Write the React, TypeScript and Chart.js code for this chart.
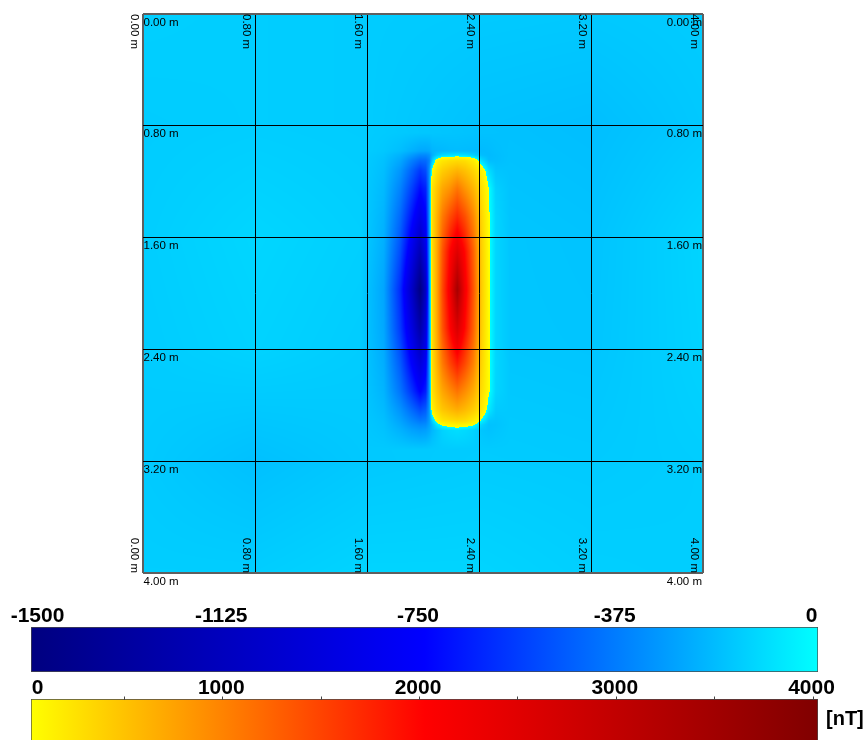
import { useEffect, useRef } from "react";
import { Chart, registerables } from "chart.js";

Chart.register(...registerables);

// ---- survey grid (metres) ----
const gridTicks = [0, 0.8, 1.6, 2.4, 3.2, 4.0];

// ---- background field (nT), nodes every 0.8 m ----
const bgNodesX = [0, 0.8, 1.6, 2.4, 3.2, 4.0];
const bgNodesY = [0, 0.8, 1.6, 2.4, 3.2, 4.0];
const bgRows = [
  [-140, -145, -150, -155, -160, -150],
  [-150, -145, -150, -180, -190, -160],
  [-145, -120, -140, -165, -175, -125],
  [-150, -130, -150, -165, -170, -130],
  [-155, -185, -160, -150, -155, -145],
  [-145, -145, -125, -125, -140, -145],
];

// ---- dipole anomaly (nT above background) ----
const anomNodesX = [1.55, 1.72, 1.84, 1.92, 1.98, 2.02, 2.045, 2.065, 2.1, 2.14, 2.19, 2.245, 2.3, 2.36, 2.42, 2.47, 2.52, 2.62];
const anomNodesY = [0.85, 0.98, 1.01, 1.05, 1.12, 1.25, 1.45, 1.7, 1.97, 2.25, 2.5, 2.7, 2.83, 2.91, 2.94, 2.98, 3.12];
const anomRows = [
  [0, 0, 0, 0, 0, 0, 0, 0, 0, 0, 0, 0, 0, 0, 0, 0, 0, 0],
  [0, -10, -35, -70, -95, -95, -85, -55, -45, -40, -30, -25, -25, -25, -25, -20, -10, 0],
  [0, -20, -70, -135, -185, -185, -155, -75, 5, 55, 75, 85, 75, 35, -15, -25, -15, 0],
  [0, -30, -105, -215, -285, -275, -205, 5, 255, 355, 415, 455, 425, 315, 75, -15, -15, 0],
  [0, -40, -155, -305, -425, -365, -165, 195, 405, 555, 655, 755, 655, 505, 275, 75, 5, 0],
  [0, -55, -215, -405, -565, -495, -165, 375, 605, 855, 1005, 1255, 1005, 755, 405, 175, 35, 0],
  [0, -75, -295, -545, -745, -605, -165, 405, 755, 1205, 1555, 1855, 1555, 1105, 485, 185, 45, 0],
  [0, -95, -385, -725, -1025, -745, -165, 405, 835, 1505, 2105, 2655, 2105, 1405, 535, 185, 45, 0],
  [0, -115, -485, -925, -1325, -945, -165, 405, 855, 1605, 2305, 3555, 2305, 1505, 555, 185, 45, 0],
  [0, -105, -435, -775, -1095, -805, -165, 405, 835, 1505, 2105, 2755, 2105, 1405, 535, 185, 45, 0],
  [0, -85, -335, -605, -805, -645, -165, 405, 755, 1205, 1605, 1955, 1605, 1155, 485, 185, 45, 0],
  [0, -65, -255, -445, -605, -505, -165, 375, 605, 855, 1055, 1255, 1055, 805, 415, 175, 35, 0],
  [0, -45, -165, -285, -375, -325, -145, 255, 455, 605, 705, 805, 705, 555, 315, 95, 5, 0],
  [0, -30, -115, -195, -245, -225, -135, 15, 225, 355, 415, 455, 425, 315, 125, -5, -15, 0],
  [0, -25, -95, -160, -190, -180, -120, -45, 85, 175, 225, 255, 225, 165, 25, -25, -20, 0],
  [0, -20, -70, -115, -135, -125, -95, -55, -15, 25, 45, 55, 45, 25, -15, -25, -15, 0],
  [0, 0, 0, 0, 0, 0, 0, 0, 0, 0, 0, 0, 0, 0, 0, 0, 0, 0],
];

// ---- colour scales ----
const negBarTicks = [-1500, -1125, -750, -375, 0];
const posBarTicks = [0, 1000, 2000, 3000, 4000];
const posBarMinorTicks = [500, 1000, 1500, 2000, 2500, 3000, 3500, 4000];
const negStops = [-1500, -750, 0];
const negColors = [[0, 0, 128], [0, 0, 255], [0, 255, 255]];
const posStops = [0, 2000, 4000];
const posColors = [[255, 255, 0], [255, 0, 0], [128, 0, 0]];
const unitLabel = "[nT]";

function ramp(v: number, stops: number[], colors: number[][]): number[] {
  if (v <= stops[0]) return colors[0];
  for (let i = 0; i < stops.length - 1; i++) {
    if (v <= stops[i + 1]) {
      const t = (v - stops[i]) / (stops[i + 1] - stops[i]);
      const a = colors[i], b = colors[i + 1];
      return [a[0] + (b[0] - a[0]) * t, a[1] + (b[1] - a[1]) * t, a[2] + (b[2] - a[2]) * t];
    }
  }
  return colors[colors.length - 1];
}
function fieldColor(v: number) {
  return v < 0 ? ramp(v, negStops, negColors) : ramp(v, posStops, posColors);
}
function rgb(c: number[]) {
  return `rgb(${Math.round(c[0])},${Math.round(c[1])},${Math.round(c[2])})`;
}
function locate(nodes: number[], v: number): [number, number] {
  const n = nodes.length;
  if (v <= nodes[0]) return [0, 0];
  if (v >= nodes[n - 1]) return [n - 2, 1];
  let i = 0;
  while (i < n - 2 && v > nodes[i + 1]) i++;
  return [i, (v - nodes[i]) / (nodes[i + 1] - nodes[i])];
}
function sample(rows: number[][], lx: [number, number], ly: [number, number]) {
  const [i, tx] = lx;
  const [j, ty] = ly;
  const a = rows[j][i], b = rows[j][i + 1], c = rows[j + 1][i], d = rows[j + 1][i + 1];
  return (a * (1 - tx) + b * tx) * (1 - ty) + (c * (1 - tx) + d * tx) * ty;
}

const heatmapPlugin = {
  id: "heatmap",
  beforeDraw(chart: any) {
    const { ctx, chartArea: ca, scales } = chart;
    const x0 = Math.round(ca.left), y0 = Math.round(ca.top);
    const w = Math.round(ca.right) - x0, h = Math.round(ca.bottom) - y0;
    const img = ctx.createImageData(w, h);
    const colBg: [number, number][] = [], colAn: [number, number][] = [];
    const rowBg: [number, number][] = [], rowAn: [number, number][] = [];
    for (let i = 0; i < w; i++) {
      const xv = scales.x.getValueForPixel(x0 + i + 0.5);
      colBg.push(locate(bgNodesX, xv));
      colAn.push(locate(anomNodesX, xv));
    }
    for (let j = 0; j < h; j++) {
      const yv = scales.y.getValueForPixel(y0 + j + 0.5);
      rowBg.push(locate(bgNodesY, yv));
      rowAn.push(locate(anomNodesY, yv));
    }
    const d = img.data;
    for (let j = 0; j < h; j++) {
      for (let i = 0; i < w; i++) {
        const v = sample(bgRows, colBg[i], rowBg[j]) + sample(anomRows, colAn[i], rowAn[j]);
        const c = fieldColor(v);
        const k = (j * w + i) * 4;
        d[k] = c[0];
        d[k + 1] = c[1];
        d[k + 2] = c[2];
        d[k + 3] = 255;
      }
    }
    ctx.putImageData(img, x0, y0);
  },
};

const gridLabelPlugin = {
  id: "gridLabels",
  afterDraw(chart: any) {
    const { ctx, chartArea: ca, scales } = chart;
    ctx.save();
    ctx.font = '11.5px "Liberation Sans", Arial, sans-serif';
    ctx.fillStyle = "#000";
    ctx.textBaseline = "alphabetic";
    gridTicks.forEach((v) => {
      const label = v.toFixed(2) + " m";
      const py = scales.y.getPixelForValue(v);
      ctx.textAlign = "left";
      ctx.fillText(label, ca.left + 0.5, py + 11.5);
      ctx.textAlign = "right";
      ctx.fillText(label, ca.right - 1, py + 11.5);
      const px = scales.x.getPixelForValue(v);
      ctx.save();
      ctx.translate(px - 11.7, ca.top);
      ctx.rotate(Math.PI / 2);
      ctx.textAlign = "left";
      ctx.fillText(label, 0, 0);
      ctx.restore();
      ctx.save();
      ctx.translate(px - 11.7, ca.bottom);
      ctx.rotate(Math.PI / 2);
      ctx.textAlign = "right";
      ctx.fillText(label, 0, 0);
      ctx.restore();
    });
    ctx.restore();
  },
};

const isEdge = (c: any) => c.tick && (c.tick.value === gridTicks[0] || c.tick.value === gridTicks[gridTicks.length - 1]);
const gridOpts = {
  color: (c: any) => (isEdge(c) ? "#5f5f5f" : "#000"),
  lineWidth: (c: any) => (isEdge(c) ? 2 : 1),
  drawTicks: false,
};

function MapChart() {
  const ref = useRef<HTMLCanvasElement>(null);
  useEffect(() => {
    const chart = new Chart(ref.current as HTMLCanvasElement, {
      type: "scatter",
      data: { datasets: [] },
      options: {
        responsive: false,
        animation: false,
        devicePixelRatio: 1,
        layout: { padding: { left: 143, top: 14, right: 160, bottom: 17 } },
        plugins: { legend: { display: false }, tooltip: { enabled: false } },
        scales: {
          x: {
            type: "linear",
            min: 0,
            max: 4,
            afterBuildTicks: (s: any) => {
              s.ticks = gridTicks.map((v) => ({ value: v }));
            },
            ticks: { display: false },
            grid: gridOpts as any,
            border: { display: false },
          },
          y: {
            type: "linear",
            min: 0,
            max: 4,
            reverse: true,
            afterBuildTicks: (s: any) => {
              s.ticks = gridTicks.map((v) => ({ value: v }));
            },
            ticks: { display: false },
            grid: gridOpts as any,
            border: { display: false },
          },
        },
      } as any,
      plugins: [heatmapPlugin, gridLabelPlugin],
    });
    return () => chart.destroy();
  }, []);
  return <canvas ref={ref} width={863} height={590} style={{ position: "absolute", left: 0, top: 0, width: 863, height: 590 }} />;
}

type BarProps = {
  top: number;
  height: number;
  padTop: number;
  padBottom: number;
  min: number;
  max: number;
  ticks: number[];
  minorTicks: number[];
  stops: number[];
  colors: number[][];
  labelY: number;
  unit?: string;
  openBottom?: boolean;
};

function ColorBar(p: BarProps) {
  const ref = useRef<HTMLCanvasElement>(null);
  useEffect(() => {
    const labelPlugin = {
      id: "barLabels",
      afterDraw(chart: any) {
        const { ctx, chartArea: ca, scales } = chart;
        ctx.save();
        ctx.fillStyle = "#000";
        ctx.font = 'bold 21px "Liberation Sans", Arial, sans-serif';
        ctx.textAlign = "center";
        ctx.textBaseline = "alphabetic";
        p.ticks.forEach((v, i) => {
          const x = scales.x.getPixelForValue(v) + (i === 0 ? 6.5 : -6.5);
          ctx.fillText(String(v), x, p.labelY);
        });
        ctx.strokeStyle = "#444";
        ctx.lineWidth = 1;
        p.minorTicks.forEach((v) => {
          const x = Math.round(scales.x.getPixelForValue(v) - 5.5) + 0.5;
          ctx.beginPath();
          ctx.moveTo(x, ca.top - 2.5);
          ctx.lineTo(x, ca.top + 1);
          ctx.stroke();
        });
        if (p.unit) {
          ctx.textAlign = "left";
          ctx.font = 'bold 20px "Liberation Sans", Arial, sans-serif';
          ctx.fillText(p.unit, ca.right + 8, p.labelY + 31);
        }
        ctx.restore();
      },
    };
    const chart = new Chart(ref.current as HTMLCanvasElement, {
      type: "bar",
      data: {
        labels: [""],
        datasets: [
          {
            data: [[p.min, p.max]] as any,
            backgroundColor: (c: any) => {
              const ch = c.chart;
              if (!ch.chartArea) return "#fff";
              const xs = ch.scales.x;
              const g = ch.ctx.createLinearGradient(xs.getPixelForValue(p.min), 0, xs.getPixelForValue(p.max), 0);
              p.stops.forEach((s, i) => g.addColorStop((s - p.min) / (p.max - p.min), rgb(p.colors[i])));
              return g;
            },
            borderColor: "#4a4a4a",
            borderWidth: p.openBottom ? { top: 1, left: 1, right: 1, bottom: 0 } : 1,
            borderSkipped: false,
            barPercentage: 1,
            categoryPercentage: 1,
          } as any,
        ],
      },
      options: {
        indexAxis: "y",
        responsive: false,
        animation: false,
        devicePixelRatio: 1,
        layout: { padding: { left: 31, right: 45, top: p.padTop, bottom: p.padBottom } },
        plugins: { legend: { display: false }, tooltip: { enabled: false } },
        scales: {
          x: { type: "linear", min: p.min, max: p.max, display: false },
          y: { display: false },
        },
      } as any,
      plugins: [labelPlugin],
    });
    return () => chart.destroy();
  }, []);
  return (
    <canvas
      ref={ref}
      width={863}
      height={p.height}
      style={{ position: "absolute", left: 0, top: p.top, width: 863, height: p.height }}
    />
  );
}

export default function App() {
  return (
    <div style={{ position: "absolute", left: 0, top: 0, width: 863, height: 740, overflow: "hidden", background: "#fff" }}>
      <MapChart />
      <ColorBar
        top={590}
        height={86}
        padTop={37}
        padBottom={4}
        min={negStops[0]}
        max={negStops[negStops.length - 1]}
        ticks={negBarTicks}
        minorTicks={[]}
        stops={negStops}
        colors={negColors}
        labelY={32}
      />
      <ColorBar
        top={676}
        height={64}
        padTop={23}
        padBottom={0}
        min={posStops[0]}
        max={posStops[posStops.length - 1]}
        ticks={posBarTicks}
        minorTicks={posBarMinorTicks}
        stops={posStops}
        colors={posColors}
        labelY={18}
        unit={unitLabel}
        openBottom
      />
    </div>
  );
}
